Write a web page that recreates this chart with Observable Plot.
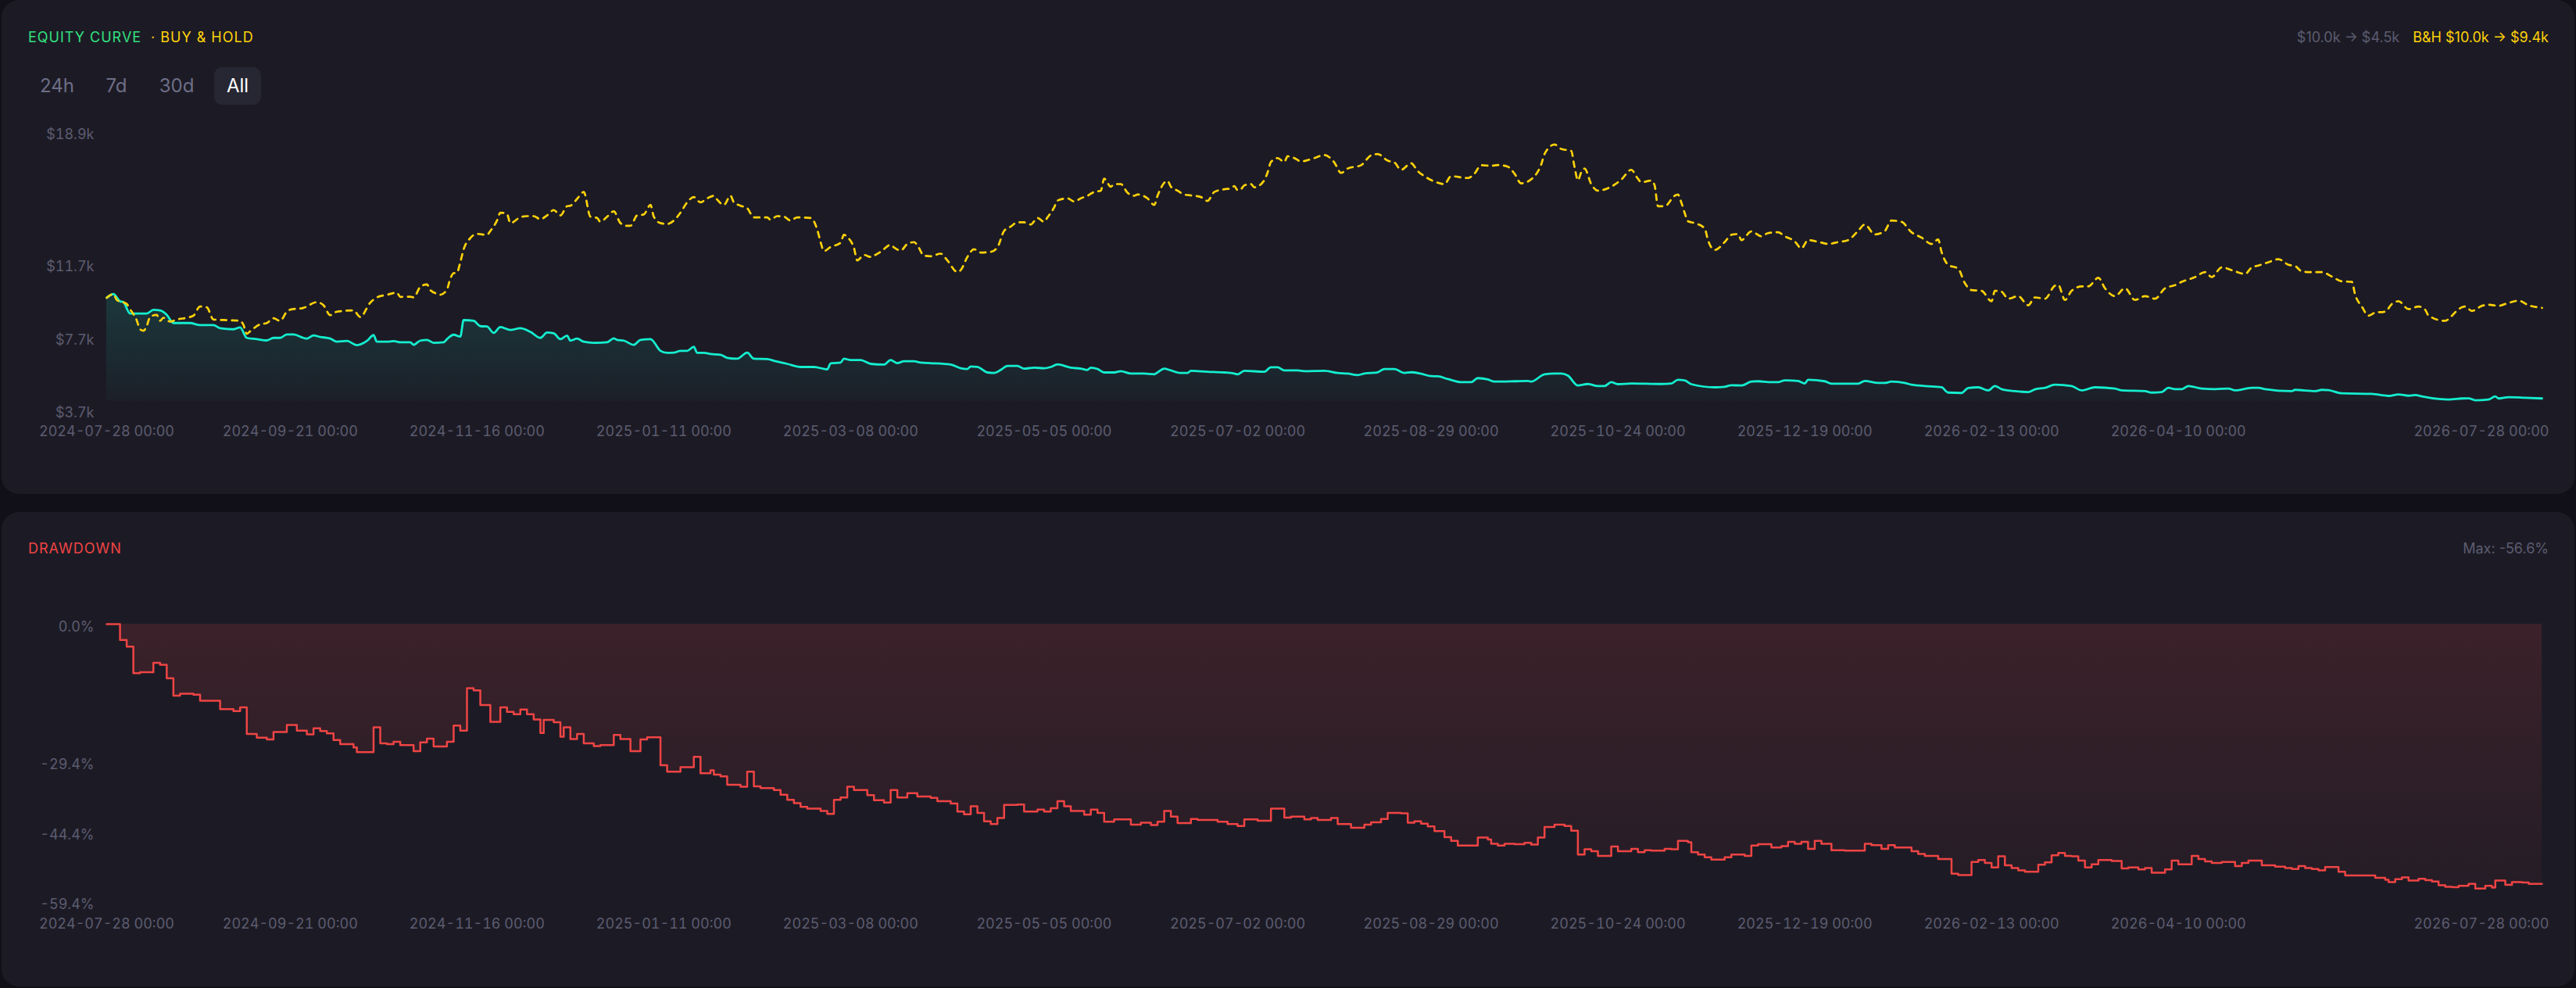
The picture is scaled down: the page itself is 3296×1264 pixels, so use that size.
<!DOCTYPE html>
<html><head><meta charset="utf-8">
<script src="https://cdn.jsdelivr.net/npm/d3@7"></script>
<script src="https://cdn.jsdelivr.net/npm/@observablehq/plot@0.6"></script>
<style>
html,body{margin:0;padding:0;background:#111019;width:3296px;height:1264px;overflow:hidden;font-family:Inter,"Noto Sans",sans-serif;}
.card{position:absolute;background:#1c1b25;border-radius:22px;}
.abs{position:absolute;white-space:nowrap;}
.ttl{font-size:18px;letter-spacing:1px;line-height:22px;}
.btn{font-size:24px;color:#6e6e87;transform:translate(-50%,-50%);line-height:30px;}
.plot{position:absolute;left:0;}
</style></head><body>
<svg width="0" height="0" style="position:absolute">
  <defs>
    <linearGradient id="eqGrad" x1="0" y1="0" x2="0" y2="1">
      <stop offset="0" stop-color="#14eecf" stop-opacity="0.14"/>
      <stop offset="1" stop-color="#14eecf" stop-opacity="0.02"/>
    </linearGradient>
    <linearGradient id="ddGrad" x1="0" y1="0" x2="0" y2="1">
      <stop offset="0" stop-color="#ef4444" stop-opacity="0.15"/>
      <stop offset="1" stop-color="#ef4444" stop-opacity="0.04"/>
    </linearGradient>
  </defs>
</svg>
<div class="card" style="left:2px;top:0;width:3292px;height:632px"></div>
<div class="card" style="left:2px;top:655px;width:3292px;height:607px"></div>

<div class="abs ttl" style="left:36px;top:37px;color:#33e080">EQUITY CURVE</div>
<div class="abs ttl" style="left:193px;top:37px;color:#ffd20a">· BUY &amp; HOLD</div>
<div class="abs" style="right:35px;top:37px;font-size:18px;line-height:22px;"><span style="color:#5c5c70">$10.0k → $4.5k</span><span style="color:#ffd20a;margin-left:17px">B&amp;H $10.0k → $9.4k</span></div>

<div class="abs" style="left:274px;top:86px;width:60px;height:48px;background:#272633;border-radius:10px"></div>
<div class="abs btn" style="left:73px;top:110px">24h</div>
<div class="abs btn" style="left:149px;top:110px">7d</div>
<div class="abs btn" style="left:226px;top:110px">30d</div>
<div class="abs btn" style="left:304px;top:110px;color:#ffffff">All</div>

<div class="abs ttl" style="left:36px;top:691px;color:#ef4444">DRAWDOWN</div>
<div class="abs" style="right:35px;top:691px;font-size:18px;line-height:22px;color:#5c5c70">Max: -56.6%</div>

<div id="topPlot" class="plot" style="top:140px"></div>
<div id="ddPlot" class="plot" style="top:770px"></div>

<script>
// days since 2024-07-28 00:00 UTC
const eqDay = [0,2,4,5,7,12,14,16,18,20,25,28,32,34,38,40,42,45,48,50,52,54,56,59,60,62,64,67,69,72,75,78,80,81,84,86,88,91,92,94,96,98,101,102,104,106,107,110,112,114,116,118,121,124,127,130,132,134,136,138,139,141,143,146,150,152,153,155,158,160,163,166,168,170,172,174,176,177,179,181,184,186,189,192,194,198,200,204,208,212,216,217,220,221,223,226,229,233,235,237,239,242,244,247,253,256,258,259,261,264,266,268,270,273,275,278,281,283,285,289,292,294,295,297,299,302,304,307,311,314,315,317,319,322,324,325,330,335,338,339,341,347,349,351,353,357,359,365,369,372,375,377,381,383,386,389,391,394,397,399,402,406,409,411,414,416,422,426,427,431,434,436,438,441,444,447,449,451,453,457,466,469,471,473,475,482,485,487,490,493,495,499,501,503,507,509,510,515,517,525,527,531,533,535,539,541,545,550,552,556,558,561,564,566,568,572,576,578,581,584,589,592,596,602,604,611,613,616,618,620,622,624,628,632,636,638,643,645,647,655,656,662,664,666,670,679,684,687,690,692,694,699,702,706,708,710,714,716,717,720,725,730];
const eqVal = [10.0,10.2,9.81,9.76,9.14,9.14,9.34,9.31,9.07,8.62,8.62,8.51,8.51,8.34,8.28,8.38,7.81,7.74,7.67,7.81,7.81,8.0,8.0,7.81,7.77,7.94,7.86,7.77,7.6,7.64,7.41,7.64,7.96,7.6,7.6,7.63,7.57,7.57,7.43,7.66,7.7,7.54,7.57,7.74,7.98,7.88,8.78,8.74,8.45,8.43,8.08,8.4,8.24,8.34,8.14,7.81,8.1,8.06,7.74,7.93,7.66,7.77,7.6,7.54,7.57,7.78,7.7,7.66,7.43,7.7,7.74,7.1,6.99,7.0,7.1,7.1,7.32,6.99,6.99,6.93,6.89,6.72,6.67,7.0,6.67,6.65,6.56,6.39,6.22,6.22,6.09,6.42,6.46,6.67,6.6,6.6,6.39,6.35,6.6,6.43,6.53,6.53,6.46,6.43,6.35,6.15,6.11,6.25,6.22,5.92,5.89,6.06,6.28,6.28,6.13,6.18,6.15,6.22,6.36,6.18,6.13,6.06,6.18,6.11,5.92,5.92,5.99,5.86,5.86,5.82,5.92,6.13,6.03,5.89,5.89,6.01,5.96,5.92,5.86,5.82,6.01,5.96,6.2,6.2,6.03,6.03,5.99,6.01,5.89,5.86,5.78,5.86,5.93,6.11,6.11,5.89,5.93,5.85,5.72,5.71,5.56,5.39,5.39,5.61,5.54,5.42,5.44,5.46,5.42,5.82,5.86,5.86,5.75,5.21,5.29,5.18,5.18,5.39,5.28,5.32,5.29,5.32,5.52,5.49,5.28,5.11,5.14,5.22,5.21,5.42,5.44,5.39,5.39,5.49,5.46,5.32,5.52,5.44,5.31,5.31,5.46,5.35,5.35,5.42,5.35,5.25,5.18,5.11,4.82,4.8,5.07,5.11,4.94,5.18,5.01,4.9,4.85,5.0,5.08,5.25,5.18,4.94,5.11,5.04,4.94,4.9,4.82,4.85,5.08,5.01,5.01,5.18,5.04,5.01,5.04,4.94,5.08,5.08,5.01,4.9,4.97,4.9,4.97,4.95,4.78,4.75,4.64,4.72,4.65,4.69,4.61,4.47,4.44,4.5,4.51,4.4,4.44,4.61,4.5,4.57,4.54,4.5];

const bhDay = [0,2,3,6,7,9,10,11,12,13,15,16,17,19,21,25,26,28,30,32,37,40,41,42,43,46,48,50,52,54,55,59,63,65,67,69,74,76,79,81,84,87,88,91,92,94,96,97,99,100,102,103,104,105,106,107,109,111,114,115,117,118,120,121,124,126,128,130,132,134,136,138,139,141,143,145,147,148,150,152,154,156,157,159,161,163,164,166,168,170,172,174,176,178,180,182,183,185,187,188,190,192,194,198,199,201,203,205,207,211,213,214,215,217,220,221,222,224,225,227,229,230,232,235,236,238,240,242,243,245,247,250,252,255,256,258,260,262,265,267,269,271,273,275,277,279,281,282,284,285,288,290,292,294,296,298,299,301,302,304,306,308,309,312,314,315,317,318,319,321,323,326,328,330,331,332,335,337,338,339,340,341,343,344,347,348,349,351,353,354,356,358,362,365,368,370,372,376,379,381,384,386,388,391,393,395,398,401,403,408,410,412,415,417,420,422,424,428,430,431,434,436,439,440,441,442,443,445,447,451,454,457,459,460,463,464,465,467,470,471,472,473,474,476,479,480,482,485,487,489,490,493,496,498,501,503,506,508,510,514,516,519,522,525,527,530,533,535,538,541,544,547,549,550,552,555,557,559,562,565,566,568,570,573,576,578,581,584,585,587,589,592,594,597,599,602,605,608,611,614,617,620,622,626,629,631,634,638,641,643,645,648,651,654,656,658,660,664,667,670,673,674,676,678,680,683,685,687,690,693,695,696,701,703,705,707,709,712,714,717,719,723,726,730];
const bhVal = [10.0,10.2,9.88,9.66,9.38,8.77,8.28,8.2,8.45,8.95,9.07,8.74,8.91,8.7,8.81,8.95,9.02,9.52,9.48,8.81,8.77,8.74,8.52,8.03,8.17,8.55,8.62,8.88,8.74,9.24,9.35,9.45,9.76,9.59,9.05,9.24,9.31,8.95,9.73,10.02,10.16,10.28,10.05,10.06,10.02,10.59,10.73,10.42,10.22,10.16,10.45,11.04,11.34,11.37,11.94,12.65,13.26,13.49,13.44,13.65,14.22,14.65,14.57,14.08,14.4,14.46,14.46,14.29,14.5,14.79,14.5,15.0,15.03,15.4,15.78,14.43,14.36,14.15,14.43,14.72,14.08,13.93,13.93,14.5,14.55,15.07,14.43,14.08,14.03,14.22,14.65,15.21,15.5,15.21,15.43,15.57,15.36,15.07,15.57,15.21,15.03,14.89,14.39,14.39,14.26,14.46,14.43,14.22,14.39,14.36,13.72,13.04,12.55,12.77,13.01,13.44,13.32,12.72,12.04,12.34,12.23,12.3,12.51,12.89,12.75,12.58,12.94,13.04,12.87,12.3,12.27,12.41,12.04,11.41,11.51,12.23,12.65,12.47,12.51,12.75,13.65,13.89,14.12,14.12,14.0,14.36,14.15,14.39,14.93,15.31,15.43,15.26,15.43,15.57,15.78,15.85,16.5,16.07,16.21,16.21,15.74,15.57,15.64,15.43,15.07,15.57,16.28,16.38,16.07,15.85,15.64,15.57,15.5,15.29,15.5,15.78,15.93,15.97,16.1,15.88,15.93,16.14,16.21,16.03,16.42,16.85,17.42,17.63,17.42,17.73,17.63,17.45,17.63,17.8,17.39,16.82,17.06,17.24,17.78,17.85,17.49,17.39,16.99,17.35,16.92,16.64,16.35,16.21,16.64,16.54,16.78,17.24,17.21,17.25,17.16,16.78,16.25,16.64,17.28,17.85,18.37,18.13,18.02,17.14,16.42,16.85,17.06,16.21,15.85,16.07,16.45,16.99,16.5,16.31,16.4,16.14,15.0,15.0,15.57,15.64,15.21,14.64,14.18,14.08,13.79,13.15,12.61,13.04,13.44,13.48,13.15,13.62,13.36,13.53,13.58,13.36,13.08,12.7,13.15,13.01,12.94,13.04,13.15,13.65,14.0,13.46,13.65,14.22,14.15,13.58,13.29,12.94,13.18,12.51,11.8,11.59,10.8,10.42,10.38,9.81,10.38,10.33,9.95,10.09,9.59,10.02,9.95,10.66,10.7,9.88,10.38,10.62,10.62,11.09,10.52,10.09,10.52,9.88,10.09,9.95,10.52,10.69,10.87,11.13,11.4,11.13,11.66,11.44,11.3,11.66,11.76,11.94,12.11,11.8,11.73,11.44,11.4,11.4,11.16,10.9,10.87,10.16,9.52,9.02,9.19,9.24,9.66,9.81,9.38,9.52,9.34,9.02,8.74,9.02,9.38,9.52,9.28,9.56,9.62,9.56,9.66,9.84,9.59,9.45];

const ddDay = [0,4,6,8,10,14,16,18,20,22,26,28,34,38,40,42,45,48,50,54,57,60,62,64,66,68,70,74,75,80,82,84,86,88,92,94,96,98,102,104,106,108,110,112,115,118,120,122,124,126,128,130,131,134,136,137,139,141,143,146,148,152,154,157,160,162,166,168,172,176,178,181,182,184,186,190,192,194,196,200,202,204,206,208,210,214,216,218,220,222,224,228,230,233,235,237,240,243,247,249,253,255,257,259,261,263,265,267,269,273,275,279,281,283,285,287,289,293,295,297,299,302,307,310,313,315,317,319,321,325,327,333,336,339,341,345,349,353,355,359,361,363,367,369,373,377,379,382,384,388,390,392,394,396,398,401,403,405,411,414,415,417,419,422,425,427,429,431,434,437,439,441,443,445,447,451,453,457,459,461,463,467,469,471,474,475,477,479,481,485,487,491,493,495,499,502,504,506,508,510,512,514,517,521,527,529,532,534,536,541,543,545,549,553,555,559,561,563,565,567,569,571,573,575,579,581,583,585,587,589,591,593,595,597,601,604,606,609,611,613,617,619,621,625,627,629,631,634,638,640,642,646,650,653,655,657,659,661,663,665,669,671,680,683,684,686,688,690,693,695,697,699,701,703,705,708,710,713,715,716,719,721,724,726,730];
const ddVal = [0,-3.4,-4.8,-10.5,-10.3,-8.3,-8.7,-11.6,-15.3,-14.9,-15.1,-16.4,-18.2,-18.6,-17.8,-23.5,-24.3,-24.7,-23.1,-21.6,-22.8,-23.6,-22.3,-22.9,-23.4,-24.8,-25.7,-26.4,-27.4,-22.1,-25.5,-25.7,-25.2,-25.9,-27.2,-25.3,-24.5,-26.2,-25.2,-21.7,-22.8,-13.7,-14.2,-17.3,-20.9,-17.8,-18.8,-19.3,-18.3,-19.3,-20.4,-23.3,-20.5,-21.0,-24.1,-22.1,-24.6,-23.5,-25.5,-26.1,-25.9,-23.7,-24.6,-27.2,-24.7,-24.2,-30.2,-31.6,-30.6,-28.4,-31.9,-31.3,-32.2,-32.6,-34.4,-34.8,-31.6,-34.7,-35.1,-35.5,-36.5,-37.6,-38.3,-39.1,-39.5,-40.0,-40.6,-37.6,-37.1,-34.8,-35.5,-36.6,-37.7,-38.2,-35.5,-37.1,-36.2,-36.9,-37.2,-37.9,-38.4,-40.1,-40.7,-39.0,-40.4,-42.2,-42.8,-41.5,-38.7,-38.6,-40.1,-39.7,-40.1,-39.4,-37.9,-39.0,-40.0,-40.8,-39.7,-40.4,-42.3,-41.8,-42.9,-42.5,-43.0,-42.3,-40.0,-41.2,-42.6,-41.7,-41.9,-42.3,-42.8,-43.2,-41.8,-42.1,-39.5,-41.4,-41.2,-41.8,-41.5,-41.9,-41.5,-42.8,-43.6,-42.9,-42.4,-41.7,-40.4,-40.5,-42.5,-42.2,-42.7,-43.3,-44.3,-45.6,-46.4,-47.4,-45.7,-46.1,-47.0,-47.4,-47.0,-47.1,-46.8,-47.2,-45.7,-43.4,-42.9,-43.2,-44.2,-49.3,-48.2,-48.6,-49.6,-47.6,-48.6,-48.1,-48.8,-48.4,-48.5,-48.1,-48.2,-46.4,-46.7,-48.8,-49.3,-49.9,-50.4,-49.9,-49.3,-49.6,-47.4,-47.1,-47.8,-47.5,-46.6,-47.0,-46.6,-48.1,-46.4,-47.0,-48.4,-48.5,-47.0,-47.3,-48.1,-47.3,-47.8,-48.6,-49.2,-49.6,-50.3,-53.4,-53.7,-50.9,-50.5,-51.1,-52.1,-49.7,-51.6,-52.2,-52.7,-53.0,-51.5,-51.0,-49.5,-49.0,-49.6,-49.7,-50.6,-52.1,-51.4,-50.5,-50.7,-52.3,-52.1,-52.5,-52.2,-53.2,-52.5,-50.6,-51.4,-49.6,-50.3,-50.8,-51.1,-50.9,-51.8,-51.1,-50.6,-51.6,-51.9,-52.2,-52.4,-51.8,-52.2,-52.4,-52.7,-52.0,-53.0,-53.8,-54.3,-54.7,-55.2,-54.6,-54.2,-54.9,-54.5,-54.8,-55.1,-55.9,-56.2,-56.3,-56.0,-55.6,-56.6,-56.0,-56.4,-54.9,-55.8,-55.2,-55.3,-55.6,-55.6];

const xTickLabels = ["2024-07-28","2024-09-21","2024-11-16","2025-01-11","2025-03-08","2025-05-05","2025-07-02","2025-08-29","2025-10-24","2025-12-19","2026-02-13","2026-04-10"];
const xLastLabel = ["2026-07-28"];
const yTicksTop = [3.7, 7.7, 11.7, 18.9];
const yDomainTop = [3.7, 18.9];
const eqAreaBase = 4.35;
const yTicksDd = [0, -29.4, -44.4, -59.4];
const yDomainDd = [-59.4, 0];
const spanDays = [0, 730];

const startMs = Date.UTC(2024, 6, 28);
const toDate = d => new Date(startMs + d * 864e5);
const eq = eqDay.map((d, i) => ({date: toDate(d), v: eqVal[i]}));
const bh = bhDay.map((d, i) => ({date: toDate(d), v: bhVal[i]}));
const dd = ddDay.map((d, i) => ({date: toDate(d), v: ddVal[i]}));
const parse = s => new Date(s + "T00:00:00Z");
const xTicks = xTickLabels.map(parse);
const xLast = xLastLabel.map(parse);
const fmt = d3.utcFormat("%Y-%m-%d %H:%M");
const xDomain = spanDays.map(toDate);

const common = {
  width: 3296, height: 440, marginLeft: 136, marginRight: 44,
  style: {background: "transparent", color: "#5c5c70", fontFamily: "Inter, 'Noto Sans', sans-serif", fontSize: "18px"}
};

const topPlot = Plot.plot({
  ...common, marginTop: 32, marginBottom: 52,
  x: {type: "utc", domain: xDomain, axis: null},
  y: {domain: yDomainTop, axis: null},
  marks: [
    Plot.areaY(eq, {x: "date", y1: eqAreaBase, y2: "v", curve: "monotone-x", fill: "url(#eqGrad)"}),
    Plot.lineY(eq, {x: "date", y: "v", stroke: "#14eecf", strokeWidth: 2.8, curve: "monotone-x"}),
    Plot.lineY(bh, {x: "date", y: "v", stroke: "#ffd20a", strokeWidth: 2.7, strokeDasharray: "7,7", curve: "monotone-x"}),
    Plot.axisY(yTicksTop, {label: null, tickSize: 0, tickPadding: 16, tickFormat: d => "$" + d.toFixed(1) + "k"}),
    Plot.axisX(xTicks, {label: null, anchor: "bottom", tickSize: 0, tickPadding: 17, tickFormat: fmt}),
    Plot.axisX(xLast, {label: null, anchor: "bottom", tickSize: 0, tickPadding: 17, tickFormat: fmt, textAnchor: "end", dx: 9})
  ]
});
document.getElementById("topPlot").appendChild(topPlot);

const ddPlot = Plot.plot({
  ...common, marginTop: 28, marginBottom: 57,
  x: {type: "utc", domain: xDomain, axis: null},
  y: {domain: yDomainDd, axis: null},
  marks: [
    Plot.areaY(dd, {x: "date", y1: 0, y2: "v", curve: "step-after", fill: "url(#ddGrad)"}),
    Plot.lineY(dd, {x: "date", y: "v", stroke: "#ef4444", strokeWidth: 2.5, curve: "step-after"}),
    Plot.axisY(yTicksDd, {label: null, tickSize: 0, tickPadding: 16, dy: 4, tickFormat: d => d.toFixed(1) + "%"}),
    Plot.axisX(xTicks, {label: null, anchor: "bottom", tickSize: 0, tickPadding: 22, tickFormat: fmt}),
    Plot.axisX(xLast, {label: null, anchor: "bottom", tickSize: 0, tickPadding: 22, tickFormat: fmt, textAnchor: "end", dx: 9})
  ]
});
document.getElementById("ddPlot").appendChild(ddPlot);
</script>
</body></html>
